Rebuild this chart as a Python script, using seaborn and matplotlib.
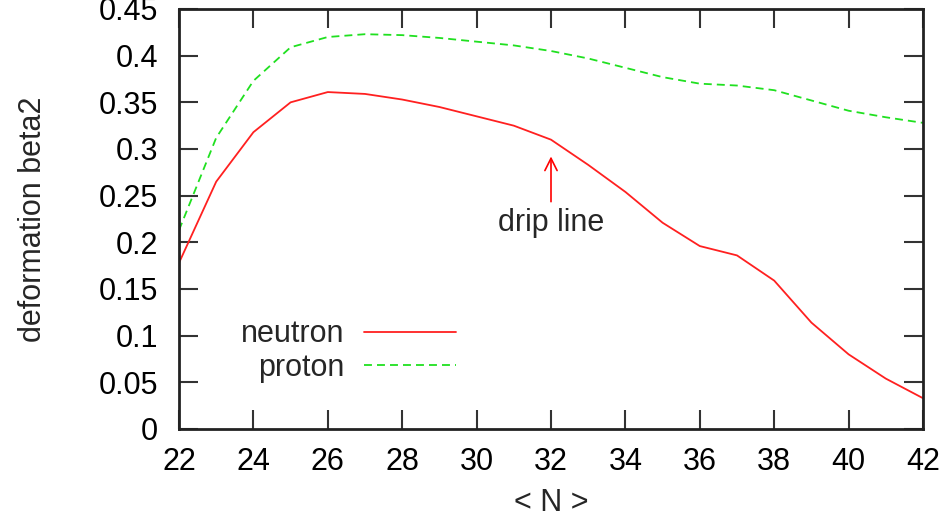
import matplotlib
matplotlib.use("Agg")
import matplotlib.pyplot as plt
import seaborn as sns
import pandas as pd

# deformation vs neutron number
N = [22, 23, 24, 25, 26, 27, 28, 29, 30, 31, 32,
     33, 34, 35, 36, 37, 38, 39, 40, 41, 42]
neutron = [0.178, 0.265, 0.318, 0.350, 0.361, 0.359, 0.353, 0.345, 0.335, 0.325, 0.310,
           0.283, 0.254, 0.221, 0.196, 0.186, 0.159, 0.114, 0.080, 0.054, 0.033]
proton = [0.213, 0.312, 0.373, 0.409, 0.420, 0.423, 0.422, 0.419, 0.415, 0.411, 0.405,
          0.397, 0.387, 0.377, 0.370, 0.368, 0.363, 0.352, 0.341, 0.334, 0.328]
xticks = list(range(22, 43, 2))
yticks = [0, 0.05, 0.1, 0.15, 0.2, 0.25, 0.3, 0.35, 0.4, 0.45]
ylabels = ["0", "0.05", "0.1", "0.15", "0.2", "0.25", "0.3", "0.35", "0.4", "0.45"]

sns.set_style("ticks")
plt.rcParams['font.family'] = ['Liberation Sans', 'DejaVu Sans']
fs = 22

df = pd.DataFrame({"N": N, "neutron": neutron, "proton": proton})

fig = plt.figure(figsize=(9.52, 5.19), dpi=100)
ax = fig.add_axes([179/952, 1 - 429/519, 744/952, 420/519])

sns.lineplot(data=df, x="N", y="neutron", ax=ax, color="#ff2020", lw=1.3, label="neutron")
sns.lineplot(data=df, x="N", y="proton", ax=ax, color="#20e020", lw=1.3,
             dashes=False, label="proton")
ax.lines[1].set_dashes([4.4, 2.8])

ax.set_xlim(22, 42)
ax.set_ylim(0, 0.45)
ax.set_xticks(xticks)
ax.set_xticklabels([str(t) for t in xticks], fontsize=fs)
ax.set_yticks(yticks)
ax.set_yticklabels(ylabels, fontsize=fs)
ax.tick_params(direction="in", length=14, width=1.5, top=True, right=True,
               colors="#333333", labelcolor="black")
ax.tick_params(axis="y", pad=15)
ax.tick_params(axis="x", pad=13)
for s in ax.spines.values():
    s.set_linewidth(2)
    s.set_color("#222222")

ax.set_xlabel("< N >", fontsize=fs)
ax.set_ylabel("deformation beta2", fontsize=fs)
ax.xaxis.set_label_coords(0.5, -0.176)
ax.yaxis.set_label_coords(-0.196, 0.5)
ax.xaxis.label.set_va("center")
ax.yaxis.label.set_va("center")

ax.annotate("drip line", xy=(32, 0.292), xytext=(32, 0.221),
            ha="center", va="center", fontsize=fs,
            arrowprops=dict(arrowstyle="->", color="red", lw=1.2, shrinkA=2, shrinkB=0))

leg = ax.legend(loc="center right", bbox_to_anchor=(456/952, 1 - 351/519),
                bbox_transform=fig.transFigure, frameon=False, markerfirst=False,
                fontsize=fs, handlelength=3.0, handletextpad=0.65,
                labelspacing=0.1, borderpad=0, borderaxespad=0)

fig.savefig("out.png", dpi=100)
